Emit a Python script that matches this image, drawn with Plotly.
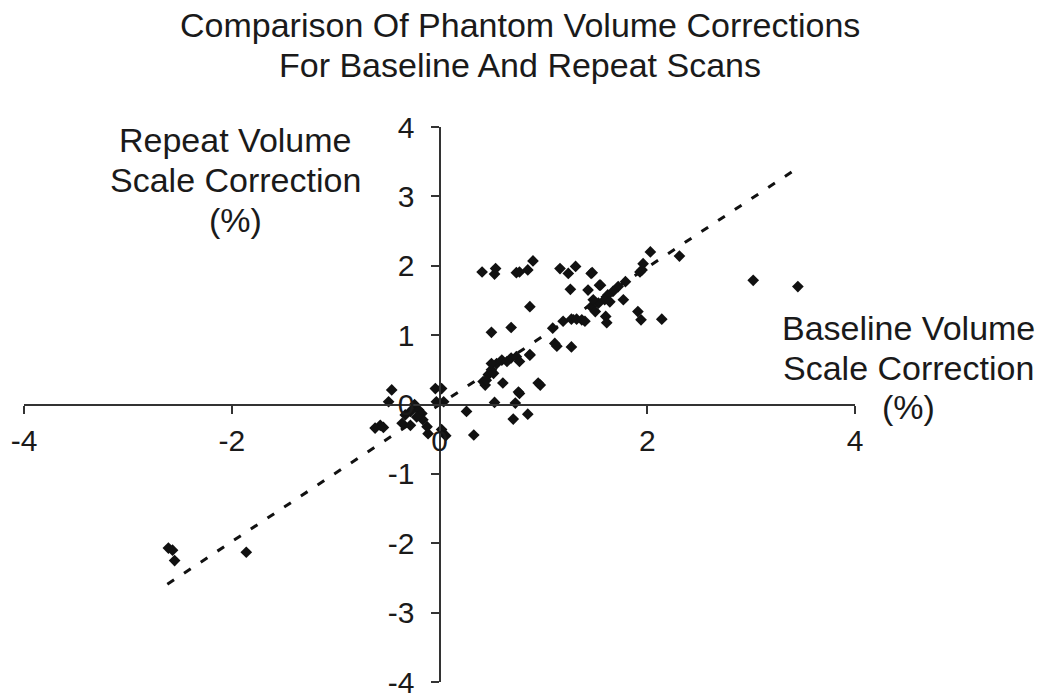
import plotly.graph_objects as go

# Data
baseline = [
    -2.61, -2.57, -2.55, -1.86,
    -0.46, -0.49, -0.57, -0.62, -0.54, -0.36, -0.28, -0.24, -0.20, -0.17, -0.16,
    -0.12, -0.22, -0.28, -0.33, -0.04, 0.02, -0.03, 0.04, 0.02, 0.06, -0.11,
    0.26, 0.33, 0.53, 0.73, 0.71, 0.85, 0.77, 0.61, 0.95, 0.97,
    0.44, 0.47, 0.50, 0.55, 0.60, 0.65, 0.69, 0.74, 0.77, 0.87, 0.76, 0.50, 0.42,
    0.45, 0.52,
    1.46, 1.54, 1.43, 1.79, 1.72, 1.67, 1.62, 1.59, 1.64, 1.53, 1.46, 1.77, 1.50,
    1.91, 1.93,
    1.19, 1.27, 1.32, 1.37, 1.40, 1.09, 0.69, 0.50, 1.11, 1.13, 1.27, 0.87, 0.87,
    1.60, 1.61, 1.48, 1.94, 2.14,
    2.03, 2.31, 1.96, 1.95, 3.02, 3.45,
    0.41, 0.54, 0.53, 0.74, 0.77, 0.85, 0.90, 1.16, 1.24, 1.31, 1.47, 1.55, 1.26,
]
repeat = [
    -2.07, -2.10, -2.25, -2.13,
    0.21, 0.04, -0.30, -0.34, -0.33, -0.27, -0.30, 0.00, -0.08, -0.13, -0.22,
    -0.32, -0.18, -0.10, -0.15, 0.23, 0.23, 0.04, 0.04, -0.36, -0.45, -0.42,
    -0.10, -0.44, 0.03, 0.02, -0.21, -0.14, 0.16, 0.31, 0.31, 0.28,
    0.28, 0.43, 0.50, 0.59, 0.64, 0.62, 0.67, 0.69, 0.62, 0.72, 0.18, 0.59, 0.33,
    0.35, 0.45,
    1.89, 1.72, 1.65, 1.77, 1.70, 1.63, 1.58, 1.51, 1.48, 1.46, 1.41, 1.51, 1.34,
    1.34, 1.91,
    1.20, 1.23, 1.23, 1.22, 1.20, 1.10, 1.11, 1.04, 0.88, 0.84, 0.83, 0.71, 1.41,
    1.27, 1.18, 1.51, 1.22, 1.23,
    2.20, 2.14, 2.03, 1.94, 1.79, 1.70,
    1.91, 1.96, 1.88, 1.90, 1.91, 1.94, 2.07, 1.96, 1.89, 1.99, 1.90, 1.72, 1.66,
]

trend_x = [-2.62, 3.42]
trend_y = [-2.59, 3.38]

y_tick_vals = [-4, -3, -2, -1, 0, 1, 2, 3, 4]
y_tick_text = ["-4", "-3", "-2", "-1", "0", "1", "2", "3", "4"]
x_tick_vals = [-4, -2, 0, 2, 4]
x_tick_text = ["-4", "-2", "0", "2", "4"]

title_lines = ["Comparison Of Phantom Volume Corrections", "For Baseline And Repeat Scans"]
ytitle_lines = ["Repeat Volume", "Scale Correction", "(%)"]
xtitle_lines = ["Baseline Volume", "Scale Correction", "(%)"]

FONT = "Arial, 'Liberation Sans', sans-serif"
TXT = "#1a1a1a"
AX = "#333333"

fig = go.Figure()
fig.add_trace(go.Scatter(
    x=trend_x, y=trend_y, mode="lines",
    line=dict(color="#111111", width=3, dash="8px,12px"),
    hoverinfo="skip", showlegend=False,
))
fig.add_trace(go.Scatter(
    x=baseline, y=repeat, mode="markers",
    marker=dict(symbol="diamond", size=9, color="#111111"),
    showlegend=False,
))

axis_common = dict(
    showline=True, linecolor=AX, linewidth=2,
    ticks="outside", ticklen=8, tickwidth=2, tickcolor=AX,
    showgrid=False, zeroline=False, anchor="free", position=0.5,
    tickfont=dict(family=FONT, size=30, color=TXT),
    range=[-4, 4], automargin=False,
)
# page body adds an 8px offset, so margins are shifted by -8px
fig.update_layout(
    width=1050, height=699,
    margin=dict(l=16, r=203, t=119, b=25),
    paper_bgcolor="white", plot_bgcolor="white",
    xaxis=dict(tickvals=x_tick_vals, ticktext=x_tick_text, ticklabelstandoff=1, **axis_common),
    yaxis=dict(tickvals=y_tick_vals, ticktext=y_tick_text, ticklabelstandoff=10, **axis_common),
    showlegend=False,
)

def add_lines(lines, xpix, ypix_first, spacing, size):
    for i, t in enumerate(lines):
        ypix = ypix_first + i * spacing
        fig.add_annotation(
            text=t, xref="paper", yref="paper",
            x=(xpix - 24) / 831, y=(682 - ypix) / 555,
            xanchor="center", yanchor="middle", showarrow=False,
            font=dict(family=FONT, size=size, color=TXT),
        )

add_lines(title_lines, 520, 25, 40, 34)
add_lines(ytitle_lines, 235, 140, 40, 34)
add_lines(xtitle_lines, 908, 328, 39.5, 34)

fig.write_html("out.html")
